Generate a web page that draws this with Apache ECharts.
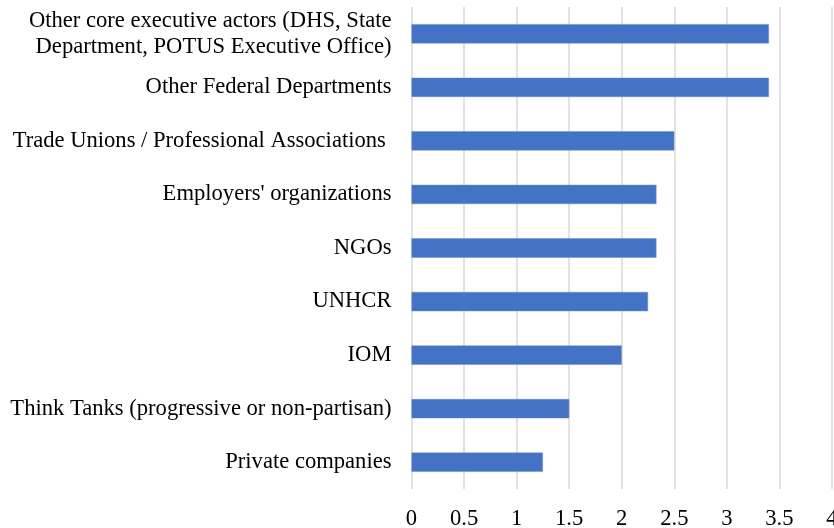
<!DOCTYPE html>
<html><head><meta charset="utf-8">
<script src="https://cdn.jsdelivr.net/npm/echarts@6/dist/echarts.min.js"></script>
<style>html,body{margin:0;padding:0;background:#fff}#c{width:834px;height:528px}</style>
</head><body><div id="c"></div>
<script>
const categories = [
  "Other core executive actors (DHS, State\nDepartment, POTUS Executive Office)",
  "Other Federal Departments",
  "Trade Unions / Professional Associations ",
  "Employers' organizations",
  "NGOs",
  "UNHCR",
  "IOM",
  "Think Tanks (progressive or non-partisan)",
  "Private companies"
];
const values = [3.4, 3.4, 2.5, 2.33, 2.33, 2.25, 2.0, 1.5, 1.25];
const xTicks = [0, 0.5, 1, 1.5, 2, 2.5, 3, 3.5, 4];

const chart = echarts.init(document.getElementById('c'));
chart.setOption({
  animation: false,
  grid: {left: 411.5, right: 2, top: 7, bottom: 39, containLabel: false, outerBoundsMode: 'none'},
  xAxis: {
    type: 'value', min: 0, max: 4, interval: 0.5,
    axisLine: {show: false}, axisTick: {show: false},
    splitLine: {show: true, lineStyle: {color: '#d9d9d9', width: 1.5}},
    axisLabel: {
      color: '#000', fontFamily: 'Liberation Serif', fontSize: 22.6, margin: 19,
      formatter: v => String(xTicks.find(t => Math.abs(t - v) < 1e-9) ?? v)
    }
  },
  yAxis: {
    type: 'category', data: categories, inverse: true,
    axisLine: {show: false}, axisTick: {show: false},
    axisLabel: {color: '#000', fontFamily: 'Liberation Serif', fontSize: 22.6, margin: 20, lineHeight: 26, align: 'right', padding: [4, 0, 0, 0]}
  },
  series: [{
    type: 'bar', data: values, barCategoryGap: '64%',
    itemStyle: {color: '#4472C4', borderColor: '#6a8fd0', borderWidth: 0.5}
  }]
});
</script></body></html>
